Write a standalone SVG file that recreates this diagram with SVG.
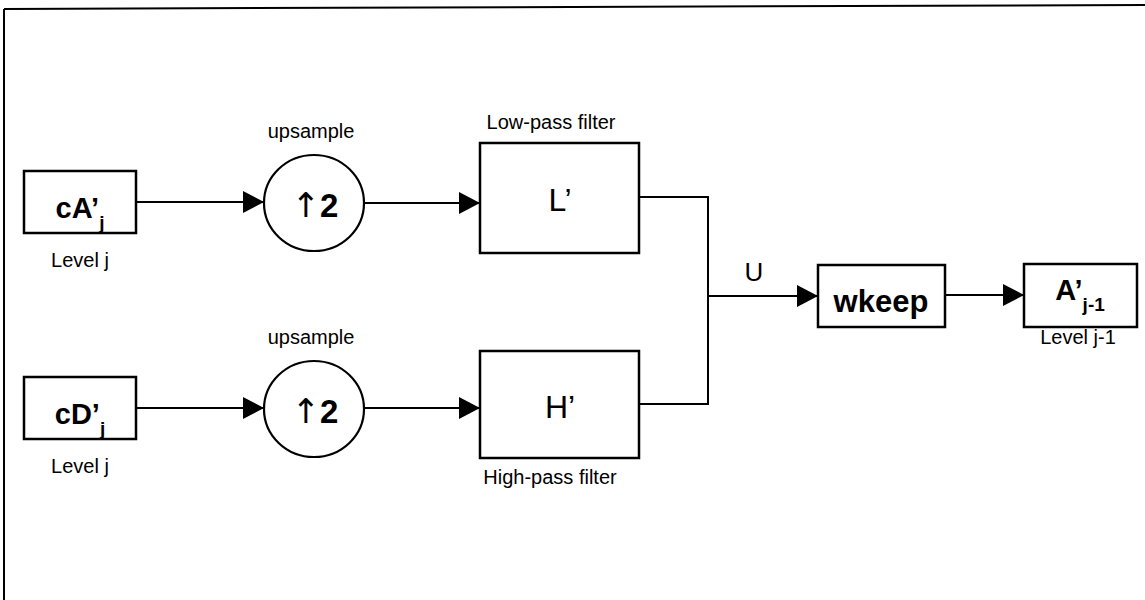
<svg xmlns="http://www.w3.org/2000/svg" width="1145" height="600" viewBox="0 0 1145 600">
<style>
.box{fill:#fff;stroke:#000;stroke-width:2.5}
.circ{fill:#fff;stroke:#000;stroke-width:2.2}
.ln{fill:none;stroke:#000;stroke-width:2}
.lbl{font-family:"Liberation Sans",Arial,sans-serif;font-size:20px;fill:#000;text-anchor:middle}
.big{font-family:"Liberation Sans",Arial,sans-serif;font-size:29px;font-weight:bold;fill:#000;text-anchor:middle}
.flt{font-family:"Liberation Sans",Arial,sans-serif;font-size:32px;fill:#000;text-anchor:middle}
.sub{font-size:19px}
.up{font-family:"Liberation Sans",Arial,sans-serif;font-size:33px;font-weight:bold;fill:#000;text-anchor:middle}
.arw{font-family:"DejaVu Sans",sans-serif;font-weight:normal;font-size:34px}
</style>
<defs>
<marker id="arr" markerUnits="userSpaceOnUse" markerWidth="22" markerHeight="22" refX="21" refY="11" orient="auto">
<path d="M0,0 L21,11 L0,22 Z" fill="#000"/>
</marker>
</defs>
<rect x="0" y="0" width="1145" height="600" fill="#fff"/>
<g id="frame">
<line class="ln" x1="4" y1="9" x2="1145" y2="5"/>
<line class="ln" x1="4" y1="9" x2="4" y2="600"/>
</g>
<g id="connectors">
<line class="ln" x1="136" y1="202" x2="264" y2="202" marker-end="url(#arr)"/>
<line class="ln" x1="364" y1="203" x2="480" y2="203" marker-end="url(#arr)"/>
<line class="ln" x1="136" y1="408" x2="264" y2="408" marker-end="url(#arr)"/>
<line class="ln" x1="364" y1="408" x2="480" y2="408" marker-end="url(#arr)"/>
<polyline class="ln" points="639,197 708,197 708,404 639,404"/>
<line class="ln" x1="708" y1="296" x2="818" y2="296" marker-end="url(#arr)"/>
<line class="ln" x1="945" y1="295" x2="1024" y2="295" marker-end="url(#arr)"/>
<text class="lbl" x="754" y="281" style="font-size:26px">U</text>
</g>
<g id="cA">
<rect class="box" x="24" y="171" width="112" height="62"/>
<text class="big" x="80" y="218">cA’<tspan class="sub" dy="11">j</tspan></text>
<text class="lbl" x="80" y="267">Level j</text>
</g>
<g id="cD">
<rect class="box" x="24" y="377" width="112" height="62"/>
<text class="big" x="80" y="424">cD’<tspan class="sub" dy="11">j</tspan></text>
<text class="lbl" x="80" y="473">Level j</text>
</g>
<g id="up1">
<text class="lbl" x="311" y="138">upsample</text>
<ellipse class="circ" cx="314" cy="203" rx="50" ry="48"/>
<text class="up" x="315" y="217"><tspan class="arw">↑</tspan>2</text>
</g>
<g id="up2">
<text class="lbl" x="311" y="344">upsample</text>
<ellipse class="circ" cx="314" cy="409" rx="50" ry="48"/>
<text class="up" x="315" y="423"><tspan class="arw">↑</tspan>2</text>
</g>
<g id="L">
<text class="lbl" x="551" y="129">Low-pass filter</text>
<rect class="box" x="480" y="143" width="159" height="110"/>
<text class="flt" x="560" y="211">L’</text>
</g>
<g id="H">
<rect class="box" x="480" y="351" width="159" height="107"/>
<text class="flt" x="560" y="418">H’</text>
<text class="lbl" x="550" y="484">High-pass filter</text>
</g>
<g id="wkeep">
<rect class="box" x="818" y="265" width="127" height="62"/>
<text class="big" x="881" y="312" style="font-size:31px">wkeep</text>
</g>
<g id="A">
<rect class="box" x="1024" y="264" width="113" height="63"/>
<text class="big" x="1080" y="300">A’<tspan class="sub" dy="11">j-1</tspan></text>
<text class="lbl" x="1078" y="344">Level j-1</text>
</g>
</svg>
